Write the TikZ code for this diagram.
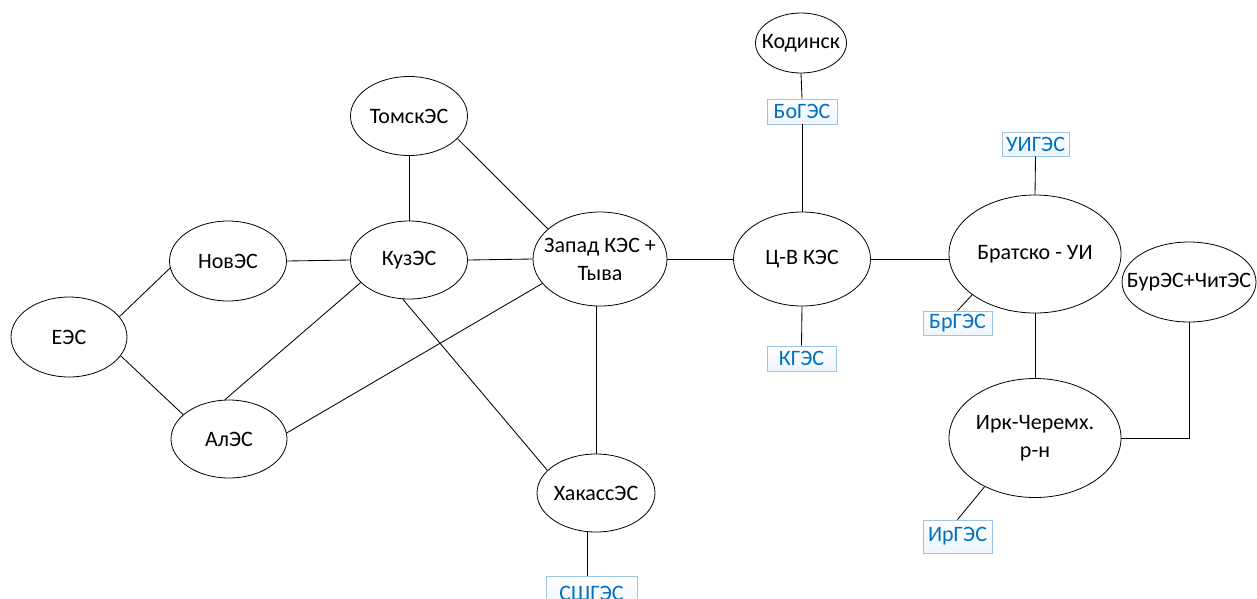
\documentclass[tikz,border=0pt]{standalone}
\usepackage{fontspec}
\setmainfont{Carlito}
\usetikzlibrary{shapes.geometric}
\definecolor{boxblue}{HTML}{0070C0}
\definecolor{boxedge}{HTML}{9DC3E6}
\tikzset{
  sys/.style={ellipse, draw, line width=0.8pt, inner xsep=-40pt, inner ysep=-30pt,
    align=center, font=\fontsize{22}{28}\selectfont},
  ges/.style={rectangle, draw=boxedge, line width=0.9pt, top color=white, bottom color=boxblue!7,
    text=boxblue, font=\fontsize{22}{25}\selectfont, inner sep=0pt},
  link/.style={line width=0.85pt}
}
\begin{document}
\begin{tikzpicture}[x=1pt,y=-1pt]
\clip (0,0) rectangle (1257,598);
\fill[white] (0,0) rectangle (1257,598);
% systems
\node[sys, minimum width=116pt, minimum height=80pt] (ees) at (69,337) {ЕЭС};
\node[sys, minimum width=117pt, minimum height=80pt] (nov) at (228,261) {НовЭС};
\node[sys, minimum width=116pt, minimum height=78pt] (al) at (229,439) {АлЭС};
\node[sys, minimum width=117pt, minimum height=79pt] (tom) at (409,116) {ТомскЭС};
\node[sys, minimum width=117pt, minimum height=78pt] (kuz) at (409,260) {КузЭС};
\node[sys, minimum width=134pt, minimum height=94pt] (zap) at (600,259) {Запад КЭС +\\Тыва};
\node[sys, minimum width=118pt, minimum height=78pt] (hak) at (596,493) {ХакассЭС};
\node[sys, minimum width=137pt, minimum height=94pt] (cv) at (802,259) {Ц-В КЭС};
\node[sys, minimum width=91pt, minimum height=60pt] (kod) at (801,43) {Кодинск};
\node[sys, minimum width=172pt, minimum height=118pt] (br) at (1035,254) {Братско - УИ};
\node[sys, minimum width=134pt, minimum height=80pt] (bur) at (1189,282) {БурЭС+ЧитЭС};
\node[sys, minimum width=172pt, minimum height=119pt] (irk) at (1035,438) {Ирк-Черемх.\\р-н};
% stations
\node[ges, minimum width=70pt, minimum height=25pt] (bog) at (802,111.5) {БоГЭС};
\node[ges, minimum width=67pt, minimum height=24pt] (uig) at (1035.5,144) {УИГЭС};
\node[ges, minimum width=69pt, minimum height=24pt] (brg) at (957.5,323) {БрГЭС};
\node[ges, minimum width=69pt, minimum height=25pt] (kg) at (801.5,358.5) {КГЭС};
\node[ges, minimum width=69pt, minimum height=33pt] (irg) at (957.5,536.5) {ИрГЭС};
\node[ges, minimum width=91pt, minimum height=34pt] (ssh) at (591.5,593) {СШГЭС};
% links
\draw[link] (ees.22) -- (nov.187);
\draw[link] (ees.340) -- (al.152);
\draw[link] (nov.east) -- (kuz.west);
\draw[link] (tom.south) -- (kuz.north);
\draw[link] (tom.335) -- (zap.150);
\draw[link] (kuz.east) -- (zap.west);
\draw[link] (kuz.205) -- (al.96);
\draw[link] (zap.203) -- (al.6);
\draw[link] (kuz.261) -- (hak.155);
\draw[link] (hak.north) -- (hak.north |- zap.south);
\draw[link] (zap.east) -- (cv.west);
\draw[link] (kod.south) -- (bog.north);
\draw[link] (bog.south) -- (cv.north);
\draw[link] (cv.south) -- (kg.north);
\draw[link] (cv.east) -- (cv.east -| br.west);
\draw[link] (uig.south) -- (br.north);
\draw[link] (br.213) -- (brg.north);
\draw[link] (br.south) -- (irk.north);
\draw[link] (irk.224) -- (irg.north);
\draw[link] (irk.east) -| (bur.south);
\draw[link] (hak.257) -- (hak.257 |- ssh.north);
\end{tikzpicture}
\end{document}
